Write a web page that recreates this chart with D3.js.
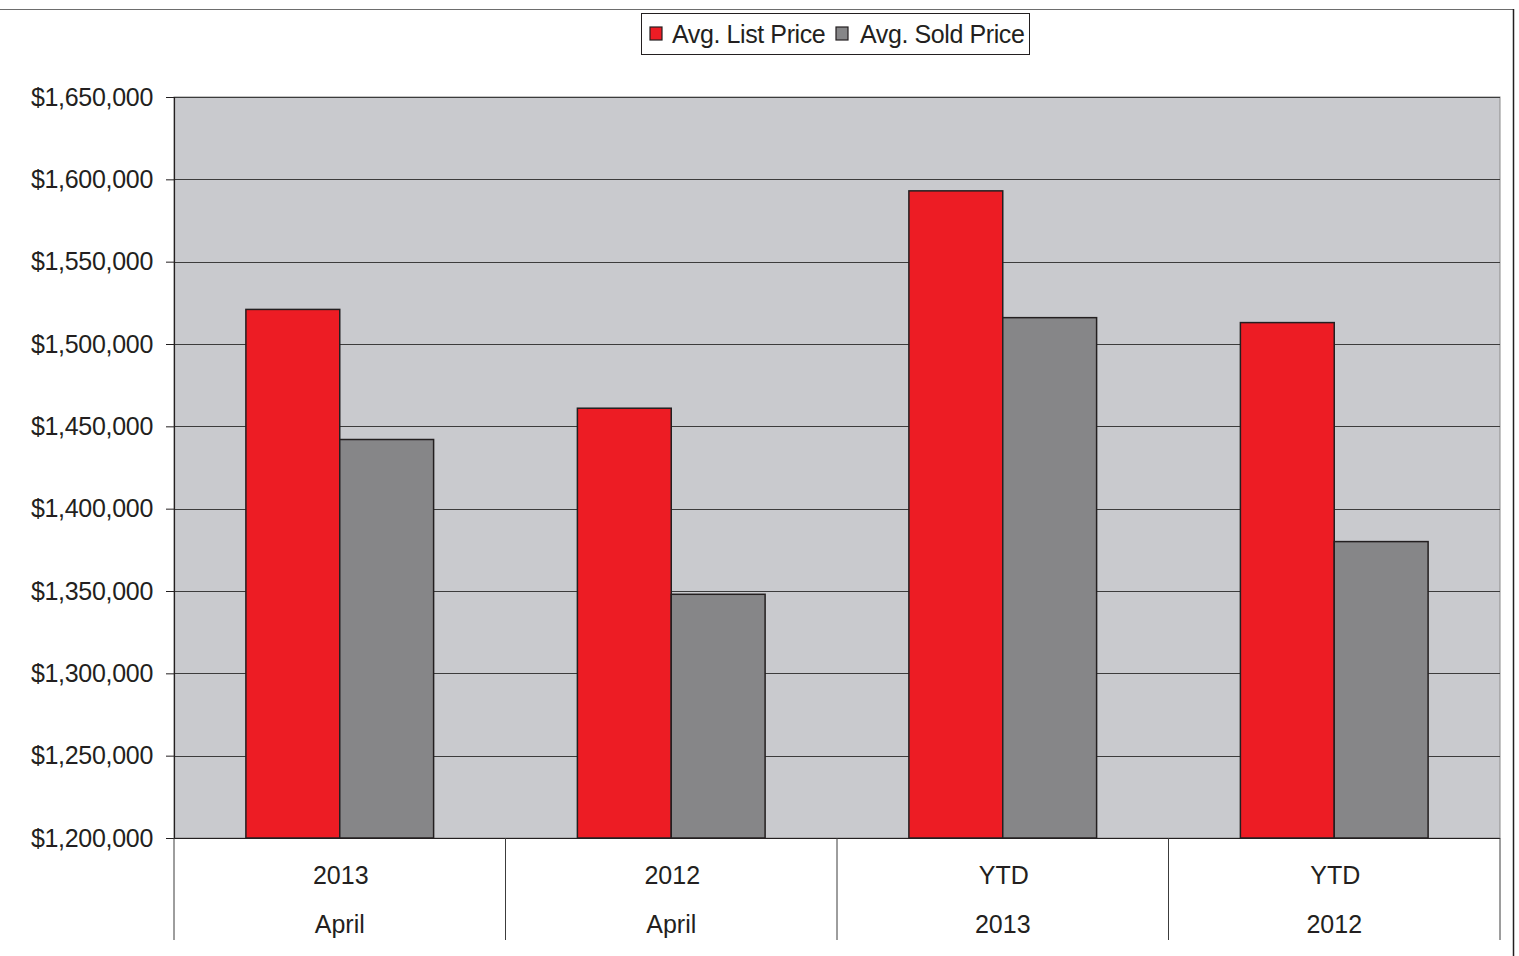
<!DOCTYPE html>
<html>
<head>
<meta charset="utf-8">
<script src="https://cdn.jsdelivr.net/npm/d3@7"></script>
<style>
  body { margin: 0; background: #fff; }
  svg { display: block; font-family: "Liberation Sans", Arial, sans-serif; }
</style>
</head>
<body>
<div id="chart"></div>
<script>
// category labels (two rows under the axis)
const topLabels = ["2013", "2012", "YTD", "YTD"];
const bottomLabels = ["April", "April", "2013", "2012"];

// series
const seriesNames = ["Avg. List Price", "Avg. Sold Price"];
const listPrice = [1521000, 1461000, 1593000, 1513000];
const soldPrice = [1442000, 1348000, 1516000, 1380000];
const seriesColors = ["#ed1c24", "#868688"];

const yTicks = [1200000, 1250000, 1300000, 1350000, 1400000, 1450000, 1500000, 1550000, 1600000, 1650000];

const width = 1519,
  height = 956;
const plot = { left: 174, right: 1500, top: 97, bottom: 838 };

const svg = d3.select("#chart")
  .append("svg")
  .attr("width", width)
  .attr("height", height);

// outer frame (top + right edges)
svg.append("line")
  .attr("x1", 0).attr("x2", 1513)
  .attr("y1", 9.5).attr("y2", 9.5)
  .attr("stroke", "#6d6d6d").attr("stroke-width", 1);
svg.append("line")
  .attr("x1", 1513.5).attr("x2", 1513.5)
  .attr("y1", 9).attr("y2", height)
  .attr("stroke", "#231f20").attr("stroke-width", 1.5);

const x = d3.scaleBand()
  .domain(d3.range(topLabels.length))
  .range([plot.left, plot.right])
  .paddingInner(0)
  .paddingOuter(0);

const x1 = d3.scaleBand()
  .domain(d3.range(seriesNames.length))
  .range([0, x.bandwidth()])
  .paddingOuter(0.766)
  .paddingInner(0);

const y = d3.scaleLinear()
  .domain([1200000, 1650000])
  .range([plot.bottom, plot.top]);

// plot background
svg.append("rect")
  .attr("x", plot.left)
  .attr("y", plot.top)
  .attr("width", plot.right - plot.left)
  .attr("height", plot.bottom - plot.top)
  .attr("fill", "#c9cace")
  .attr("stroke", "#8a8a8a")
  .attr("stroke-width", 1);

// gridlines
svg.append("g")
  .selectAll("line")
  .data(yTicks.slice(1))
  .join("line")
  .attr("x1", plot.left)
  .attr("x2", plot.right)
  .attr("y1", d => Math.round(y(d)) + 0.5)
  .attr("y2", d => Math.round(y(d)) + 0.5)
  .attr("stroke", "#3c3c3c")
  .attr("stroke-width", 1);

// y axis
const fmt = d3.format("$,");
const yAxis = svg.append("g")
  .attr("transform", `translate(${plot.left},0)`)
  .call(d3.axisLeft(y).tickValues(yTicks).tickFormat(fmt).tickSize(8).tickPadding(13));
yAxis.select(".domain").attr("stroke", "#231f20").attr("stroke-width", 1.2);
yAxis.selectAll(".tick line").attr("stroke", "#231f20");
yAxis.selectAll(".tick text")
  .attr("font-size", 25)
  .attr("letter-spacing", "-0.3px")
  .attr("fill", "#231f20")
  .attr("font-family", "'Liberation Sans', Arial, sans-serif");

// bars
const series = [listPrice, soldPrice];
const groups = svg.append("g")
  .selectAll("g")
  .data(topLabels.map((_, i) => i))
  .join("g")
  .attr("transform", i => `translate(${x(i)},0)`);

groups.selectAll("rect")
  .data(i => series.map((s, k) => ({ k, v: s[i] })))
  .join("rect")
  .attr("x", d => x1(d.k))
  .attr("y", d => y(d.v))
  .attr("width", x1.bandwidth())
  .attr("height", d => y(1200000) - y(d.v))
  .attr("fill", d => seriesColors[d.k])
  .attr("stroke", "#231f20")
  .attr("stroke-width", 1.5);

// x axis line and category dividers
svg.append("line")
  .attr("x1", plot.left).attr("x2", plot.right)
  .attr("y1", plot.bottom + 0.5).attr("y2", plot.bottom + 0.5)
  .attr("stroke", "#231f20").attr("stroke-width", 1.2);

svg.append("g")
  .selectAll("line")
  .data(d3.range(topLabels.length + 1))
  .join("line")
  .attr("x1", i => i < topLabels.length ? x(i) : plot.right)
  .attr("x2", i => i < topLabels.length ? x(i) : plot.right)
  .attr("y1", plot.bottom)
  .attr("y2", 940)
  .attr("stroke", "#3c3c3c")
  .attr("stroke-width", 1);

const labelG = svg.append("g")
  .attr("font-size", 25)
  .attr("fill", "#231f20")
  .attr("text-anchor", "middle");

labelG.selectAll("text.top")
  .data(topLabels)
  .join("text")
  .attr("class", "top")
  .attr("x", (d, i) => x(i) + x.bandwidth() / 2 + 1)
  .attr("y", 884)
  .text(d => d);

labelG.selectAll("text.bottom")
  .data(bottomLabels)
  .join("text")
  .attr("class", "bottom")
  .attr("x", (d, i) => x(i) + x.bandwidth() / 2)
  .attr("y", 933)
  .text(d => d);

// legend
const legend = svg.append("g");
legend.append("rect")
  .attr("x", 641.5).attr("y", 13.5)
  .attr("width", 388).attr("height", 41)
  .attr("fill", "#fff")
  .attr("stroke", "#231f20")
  .attr("stroke-width", 1);

const legendX = [650, 836];
const item = legend.selectAll("g.item")
  .data(seriesNames)
  .join("g")
  .attr("class", "item")
  .attr("transform", (d, i) => `translate(${legendX[i]},0)`);

item.append("rect")
  .attr("x", 0).attr("y", 27)
  .attr("width", 12).attr("height", 13)
  .attr("fill", (d, i) => seriesColors[i])
  .attr("stroke", "#231f20")
  .attr("stroke-width", 1.2);

item.append("text")
  .attr("x", (d, i) => i === 0 ? 22 : 24)
  .attr("y", 43)
  .attr("font-size", 25)
  .attr("letter-spacing", "-0.4px")
  .attr("fill", "#231f20")
  .text(d => d);
</script>
</body>
</html>
